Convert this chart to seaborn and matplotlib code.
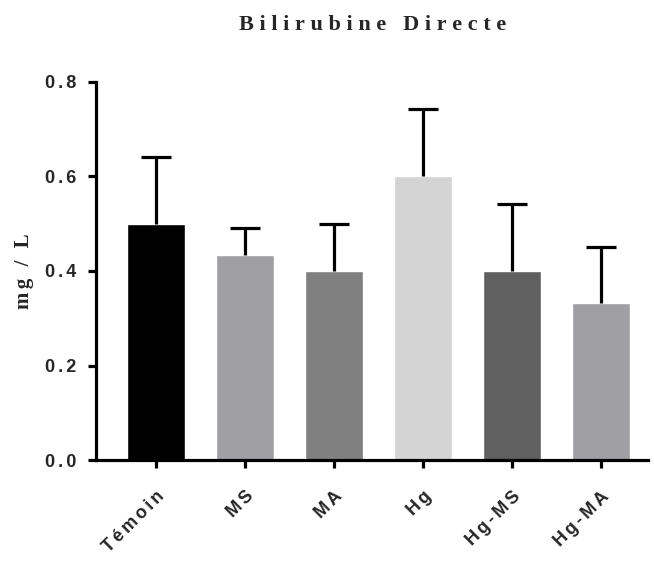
import numpy as np
import pandas as pd
import seaborn as sns
from matplotlib import pyplot as plt

# Values
groups = ["Témoin", "MS", "MA", "Hg", "Hg-MS", "Hg-MA"]
means = [0.50, 0.433, 0.40, 0.60, 0.40, 0.333]
errors = [0.142, 0.058, 0.10, 0.143, 0.142, 0.117]
colors = ["#000000", "#a0a0a4", "#808080", "#d4d4d4", "#606060", "#a0a0a4"]
y_ticks = [0.0, 0.2, 0.4, 0.6, 0.8]

df = pd.DataFrame({"group": groups, "mean": means})


def spaced(s, sep="\u2006"):
    # the reference text is drawn with wide letter spacing
    return sep.join(s)


sns.set_style("ticks")
plt.rcParams["font.family"] = ["Liberation Sans", "DejaVu Sans"]
serif = ["Liberation Serif", "DejaVu Serif"]

fig = plt.figure(figsize=(6.54, 5.68), dpi=100)
ax = fig.add_axes([0.147, 0.19, 0.844, 0.666])

sns.barplot(data=df, x="group", y="mean", hue="group", palette=colors,
            width=0.66, legend=False, errorbar=None, ax=ax, saturation=1)

# upper error bars only
x = np.arange(len(groups))
eb = ax.errorbar(x, means, yerr=[np.zeros(len(errors)), errors], fmt="none",
                 ecolor="black", elinewidth=2.3, capsize=11, capthick=2.3)
eb[1][0].set_visible(False)

ax.set_xlim(-0.674, 5.53)
ax.set_ylim(0, 0.8)
ax.set_yticks(y_ticks)
ax.set_yticklabels([spaced(f"{t:.1f}") for t in y_ticks], fontsize=13,
                   fontweight="bold")
ax.set_xticks(x)
ax.set_xticklabels([spaced(g) for g in groups], rotation=45, ha="right",
                   rotation_mode="anchor", fontsize=13, fontweight="bold")

for s in ["top", "right"]:
    ax.spines[s].set_visible(False)
for s in ["left", "bottom"]:
    ax.spines[s].set_linewidth(2.3)
    ax.spines[s].set_color("black")
ax.tick_params(axis="both", width=2.3, length=6, color="black")
ax.tick_params(axis="y", pad=8)
ax.tick_params(axis="x", pad=14)

ax.set_xlabel("")
ax.set_ylabel(spaced("mg / L"), family=serif, fontweight="bold",
              fontsize=15, labelpad=8)
ax.set_title(spaced("Bilirubine Directe", "\u2005"), family=serif,
             fontweight="bold", fontsize=16, pad=37)

fig.savefig("out.png", dpi=100)
